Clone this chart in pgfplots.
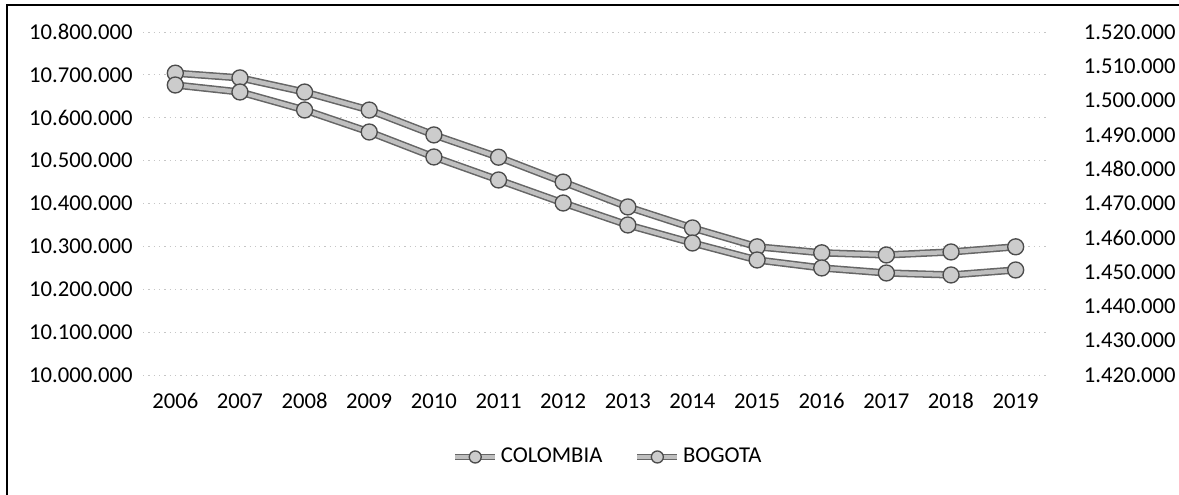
\documentclass[border=0pt]{standalone}
\usepackage{pgfplots}
\pgfplotsset{compat=1.18}
\usepackage{fontspec}
\setmainfont{Carlito}
\begin{document}
\fontsize{17}{20}\selectfont
\begin{tikzpicture}
\useasboundingbox (0pt,0pt) rectangle (884.25pt,370.5pt);
\draw[black,line width=1.5pt] (5.25pt,-4pt) -- (5.25pt,366.75pt) -- (890pt,366.75pt);
\pgfplotsset{
  common/.style={
    at={(107.25pt,89.25pt)}, anchor=south west,
    scale only axis, width=678.75pt, height=257.25pt,
    xmin=2005.5, xmax=2019.5,
    xtick={2006,...,2019},
    xticklabel style={/pgf/number format/1000 sep={}},
    /pgf/number format/assume math mode=true,
    scaled y ticks=false,
    yticklabel style={/pgf/number format/1000 sep={.}, /pgf/number format/fixed, /pgf/number format/precision=0},
    axis line style={draw=none},
    major tick length=0pt,
    tick label style={font=\fontsize{17}{20}\selectfont},
  },
  outl/.style={black!60, line width=5.5pt, forget plot},
  serstyle/.style={gray!50, line width=3.2pt, mark=*, mark size=6pt,
    mark options={fill=gray!40, draw=black!70, line width=1pt}},
}
\begin{axis}[common,
  ymin=10000000, ymax=10800000, ytick distance=100000,
  yticklabel style={xshift=-2pt},
  ymajorgrids, major grid style={gray!45, dash pattern=on 1pt off 3pt, line width=0.7pt},
  xticklabel style={yshift=-8pt},
]
\addplot[outl] coordinates {
(2006,10704000) (2007,10693000) (2008,10660000) (2009,10618000)
(2010,10560000) (2011,10508000) (2012,10450000) (2013,10392000)
(2014,10343000) (2015,10299000) (2016,10285000) (2017,10280000)
(2018,10287000) (2019,10299000)};
\addplot[serstyle] coordinates {
(2006,10704000) (2007,10693000) (2008,10660000) (2009,10618000)
(2010,10560000) (2011,10508000) (2012,10450000) (2013,10392000)
(2014,10343000) (2015,10299000) (2016,10285000) (2017,10280000)
(2018,10287000) (2019,10299000)};
\end{axis}
\begin{axis}[common,
  ymin=1420000, ymax=1520000, ytick={1420000,1430000,...,1520000},
  yticklabel style={xshift=21pt},
  axis y line*=right, axis x line=none,
  legend columns=2,
  legend style={draw=none, fill=none, at={(0.514,-0.239)}, anchor=center,
    font=\fontsize{17}{20}\selectfont, /tikz/every even column/.append style={column sep=22pt},
    inner xsep=0pt},
  legend image code/.code={
    \draw[black!60,line width=4.5pt] (0pt,0pt) -- (30pt,0pt);
    \draw[#1, mark=none] (0pt,0pt) -- (30pt,0pt);
    \draw[#1, mark size=4.5pt] plot coordinates {(15pt,0pt)};},
]
\addlegendimage{serstyle}
\addlegendentry{COLOMBIA}
\addplot[outl] coordinates {
(2006,1504550) (2007,1502510) (2008,1497260) (2009,1490850)
(2010,1483560) (2011,1476860) (2012,1470150) (2013,1463740)
(2014,1458490) (2015,1453540) (2016,1451210) (2017,1449750)
(2018,1449170) (2019,1450620)};
\addplot[serstyle] coordinates {
(2006,1504550) (2007,1502510) (2008,1497260) (2009,1490850)
(2010,1483560) (2011,1476860) (2012,1470150) (2013,1463740)
(2014,1458490) (2015,1453540) (2016,1451210) (2017,1449750)
(2018,1449170) (2019,1450620)};
\addlegendentry{BOGOTA}
\end{axis}
\end{tikzpicture}
\end{document}
